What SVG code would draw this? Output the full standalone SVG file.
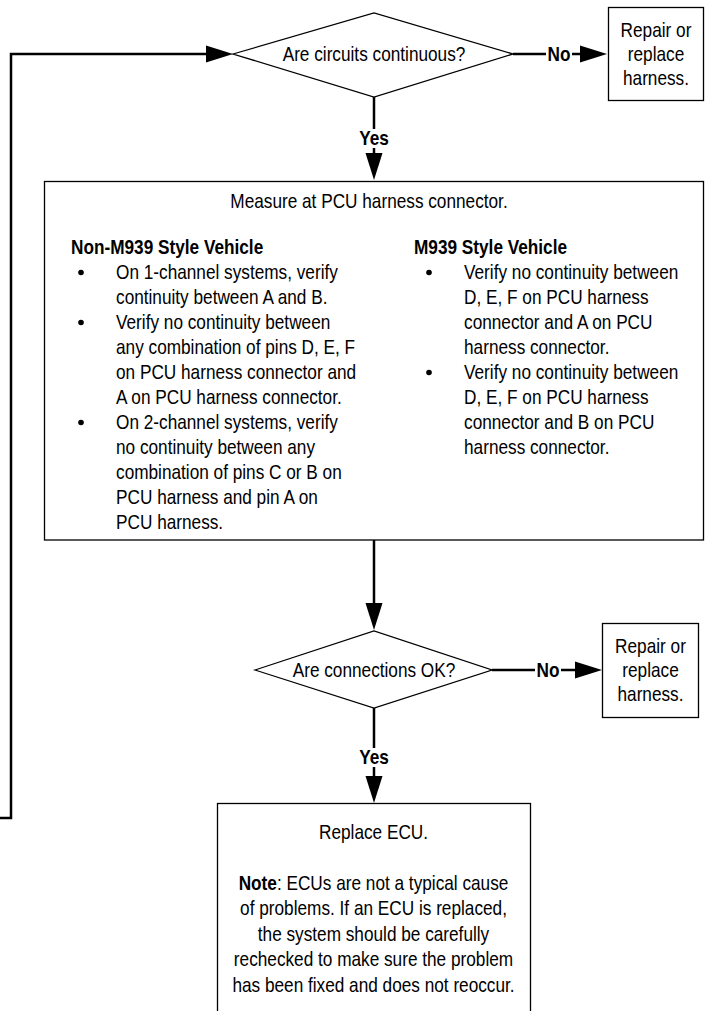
<svg xmlns="http://www.w3.org/2000/svg" width="706" height="1011" viewBox="0 0 706 1011">
<style>
.t{font-family:'Liberation Sans',Arial,sans-serif;font-size:21px;fill:#000}
.b{font-weight:bold}
.m{text-anchor:middle}
.shape{fill:#fff;stroke:#000;stroke-width:1.3}
.conn{fill:none;stroke:#000;stroke-width:2.5}
.bg{fill:#fff;stroke:none}
</style>
<defs>
<marker id="ah" markerUnits="userSpaceOnUse" markerWidth="28" markerHeight="18" refX="0" refY="8.5" orient="auto" overflow="visible">
<path d="M0,0 L27,8.5 L0,17 z" fill="#000"/>
</marker>
</defs>
<rect width="706" height="1011" fill="#fff"/>
<g id="connectors">
<path class="conn" d="M0,818 H11 V54 H206" marker-end="url(#ah)"/>
<path class="conn" d="M513,54 H580" marker-end="url(#ah)"/>
<path class="conn" d="M374,97 V153" marker-end="url(#ah)"/>
<path class="conn" d="M374,540 V603" marker-end="url(#ah)"/>
<path class="conn" d="M492,670 H575" marker-end="url(#ah)"/>
<path class="conn" d="M374,708 V776" marker-end="url(#ah)"/>
<rect class="bg" x="546" y="45" width="26" height="19"/>
<rect class="bg" x="358" y="129" width="32" height="19"/>
<rect class="bg" x="535" y="661" width="26" height="19"/>
<rect class="bg" x="358" y="748" width="32" height="19"/>
<g transform="scale(0.82 1)">
<text class="t b m" x="681.7" y="61.5">No</text>
<text class="t b m" x="456.1" y="145.5">Yes</text>
<text class="t b m" x="668.3" y="677.5">No</text>
<text class="t b m" x="456.1" y="764.5">Yes</text>
</g>
</g>
<g id="q1">
<polygon class="shape" points="233,54 374,13 513,54 374,97"/>
<g transform="scale(0.82 1)"><text class="t m" x="456.1" y="61.5">Are circuits continuous?</text></g>
</g>
<g id="repair1">
<rect class="shape" x="608.5" y="7.5" width="95" height="93"/>
<g transform="scale(0.82 1)">
<text class="t m" x="800" y="37">Repair or</text>
<text class="t m" x="800" y="61">replace</text>
<text class="t m" x="800" y="85">harness.</text>
</g>
</g>
<g id="measure">
<rect class="shape" x="44.5" y="181.5" width="659" height="358.5"/>
<circle cx="81" cy="272.5" r="2.8"/>
<circle cx="81" cy="322.5" r="2.8"/>
<circle cx="81" cy="422.5" r="2.8"/>
<circle cx="429" cy="272.5" r="2.8"/>
<circle cx="429" cy="372.5" r="2.8"/>
<g transform="scale(0.82 1)">
<text class="t m" x="450" y="208.5">Measure at PCU harness connector.</text>
<text class="t b" x="86.6" y="254">Non-M939 Style Vehicle</text>
<text class="t" x="141.5" y="279">On 1-channel systems, verify</text>
<text class="t" x="141.5" y="304">continuity between A and B.</text>
<text class="t" x="141.5" y="329">Verify no continuity between</text>
<text class="t" x="141.5" y="354">any combination of pins D, E, F</text>
<text class="t" x="141.5" y="379">on PCU harness connector and</text>
<text class="t" x="141.5" y="404">A on PCU harness connector.</text>
<text class="t" x="141.5" y="429">On 2-channel systems, verify</text>
<text class="t" x="141.5" y="454">no continuity between any</text>
<text class="t" x="141.5" y="479">combination of pins C or B on</text>
<text class="t" x="141.5" y="504">PCU harness and pin A on</text>
<text class="t" x="141.5" y="529">PCU harness.</text>
<text class="t b" x="504.9" y="254">M939 Style Vehicle</text>
<text class="t" x="565.9" y="279">Verify no continuity between</text>
<text class="t" x="565.9" y="304">D, E, F on PCU harness</text>
<text class="t" x="565.9" y="329">connector and A on PCU</text>
<text class="t" x="565.9" y="354">harness connector.</text>
<text class="t" x="565.9" y="379">Verify no continuity between</text>
<text class="t" x="565.9" y="404">D, E, F on PCU harness</text>
<text class="t" x="565.9" y="429">connector and B on PCU</text>
<text class="t" x="565.9" y="454">harness connector.</text>
</g>
</g>
<g id="q2">
<polygon class="shape" points="255,670 374,631 492,670 374,708"/>
<g transform="scale(0.82 1)"><text class="t m" x="456.1" y="677.5">Are connections OK?</text></g>
</g>
<g id="repair2">
<rect class="shape" x="602.5" y="623.5" width="96" height="94"/>
<g transform="scale(0.82 1)">
<text class="t m" x="793.3" y="653.5">Repair or</text>
<text class="t m" x="793.3" y="677.5">replace</text>
<text class="t m" x="793.3" y="701.5">harness.</text>
</g>
</g>
<g id="ecu">
<rect class="shape" x="217.5" y="803.5" width="313" height="230"/>
<g transform="scale(0.82 1)">
<text class="t m" x="455.5" y="839.5">Replace ECU.</text>
<text class="t m" x="455.5" y="890.5"><tspan class="b">Note</tspan>: ECUs are not a typical cause</text>
<text class="t m" x="455.5" y="915.5">of problems. If an ECU is replaced,</text>
<text class="t m" x="455.5" y="941">the system should be carefully</text>
<text class="t m" x="455.5" y="966.5">rechecked to make sure the problem</text>
<text class="t m" x="455.5" y="992">has been fixed and does not reoccur.</text>
</g>
</g>
</svg>
